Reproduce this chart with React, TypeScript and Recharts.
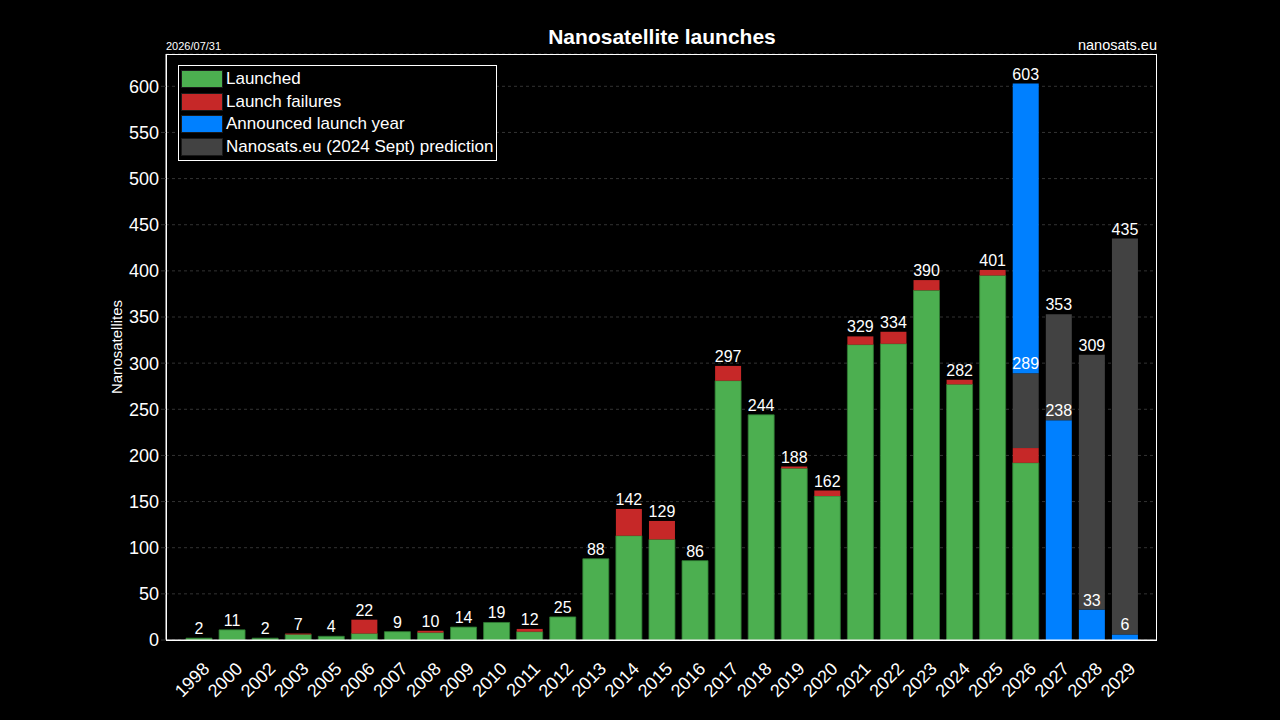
import { Bar, BarChart, CartesianGrid, LabelList, XAxis, YAxis } from "recharts"

const years = [
  "1998", "2000", "2002", "2003", "2005", "2006", "2007", "2008", "2009", "2010",
  "2011", "2012", "2013", "2014", "2015", "2016", "2017", "2018", "2019", "2020",
  "2021", "2022", "2023", "2024", "2025", "2026", "2027", "2028", "2029",
]
const launched = [
  2, 11, 2, 6, 4, 7, 9, 8, 14, 19,
  9, 25, 88, 113, 109, 86, 281, 244, 186, 156,
  320, 321, 379, 277, 395, 192, 0, 0, 0,
]
const failures = [
  0, 0, 0, 1, 0, 15, 0, 2, 0, 0,
  3, 0, 0, 29, 20, 0, 16, 0, 2, 6,
  9, 13, 11, 5, 6, 16, 0, 0, 0,
]
const announced = [
  0, 0, 0, 0, 0, 0, 0, 0, 0, 0,
  0, 0, 0, 0, 0, 0, 0, 0, 0, 0,
  0, 0, 0, 0, 0, 603, 238, 33, 6,
]
const prediction = [
  0, 0, 0, 0, 0, 0, 0, 0, 0, 0,
  0, 0, 0, 0, 0, 0, 0, 0, 0, 0,
  0, 0, 0, 0, 0, 289, 353, 309, 435,
]
const yTicks = [0, 50, 100, 150, 200, 250, 300, 350, 400, 450, 500, 550, 600]

const GREEN = "#4caf50"
const RED = "#c62828"
const BLUE = "#0080ff"
const GRAY = "#424242"
const FONT = "'Liberation Sans', Arial, sans-serif"

// taller of announced / prediction sits behind, so split into stack pieces
const data = years.map((year, i) => {
  const base = launched[i] + failures[i]
  const a = announced[i]
  const p = prediction[i]
  const low = a > 0 && a <= p ? a : 0
  const gray = p > 0 ? p - Math.max(base, low) : 0
  const high = a > p ? a - Math.max(p, base) : 0
  const plain = a === 0 && p === 0
  return {
    year,
    launched: launched[i],
    failures: failures[i],
    low,
    gray,
    high,
    labelLaunched: plain && failures[i] === 0 ? base : null,
    labelFailures: plain && failures[i] > 0 ? base : null,
    labelLow: low > 0 ? a : null,
    labelGray: p > 0 ? p : null,
    labelHigh: high > 0 ? a : null,
  }
})

const legendItems = [
  { name: "Launched", color: GREEN },
  { name: "Launch failures", color: RED },
  { name: "Announced launch year", color: BLUE },
  { name: "Nanosats.eu (2024 Sept) prediction", color: GRAY },
]

function BarLabel(props: any) {
  const { x, y, width, value } = props
  if (value === null || value === undefined) return null
  return (
    <text
      x={x + width / 2}
      y={y - 4}
      textAnchor="middle"
      fill="#fff"
      fontSize={16}
      fontFamily={FONT}
    >
      {value}
    </text>
  )
}

function YearTick(props: any) {
  const { x, y, payload } = props
  return (
    <text
      transform={`translate(${x + 12},${y + 22}) rotate(-45)`}
      textAnchor="end"
      fill="#fff"
      fontSize={18}
      fontFamily={FONT}
    >
      {payload.value}
    </text>
  )
}

function LegendBox() {
  return (
    <div
      style={{
        position: "absolute",
        left: 178,
        top: 65,
        border: "1px solid #fff",
        background: "#000",
        padding: "2px 3px 2px 2px",
        fontFamily: FONT,
        fontSize: 17,
        color: "#fff",
      }}
    >
      {legendItems.map((item) => (
        <div key={item.name} style={{ display: "flex", alignItems: "center", height: 22.6 }}>
          <div
            style={{
              width: 40,
              height: 16,
              background: item.color,
              border: "1px solid #1a1a1a",
              marginRight: 3,
            }}
          />
          <span>{item.name}</span>
        </div>
      ))}
    </div>
  )
}

export default function App() {
  return (
    <div
      style={{
        position: "fixed",
        left: 0,
        top: 0,
        width: 1280,
        height: 720,
        background: "#000",
        fontFamily: FONT,
      }}
    >
      <div
        style={{
          position: "absolute",
          left: 0,
          width: 1280,
          top: 25,
          textAlign: "center",
          color: "#fff",
          fontWeight: "bold",
          fontSize: 21,
          paddingLeft: 44,
          boxSizing: "border-box",
        }}
      >
        Nanosatellite launches
      </div>
      <div style={{ position: "absolute", left: 166, top: 40, color: "#fff", fontSize: 11 }}>
        2026/07/31
      </div>
      <div style={{ position: "absolute", right: 123, top: 37, color: "#fff", fontSize: 14.5 }}>
        nanosats.eu
      </div>
      <div
        style={{
          position: "absolute",
          left: 116,
          top: 347,
          color: "#fff",
          fontSize: 15,
          transform: "translate(-50%, -50%) rotate(-90deg)",
          whiteSpace: "nowrap",
        }}
      >
        Nanosatellites
      </div>
      <BarChart
        width={1280}
        height={720}
        data={data}
        margin={{ top: 54, right: 123, bottom: 20, left: 106 }}
        barSize={26}
      >
        <CartesianGrid vertical={false} stroke="#333" strokeDasharray="3 3" />
        <XAxis
          dataKey="year"
          interval={0}
          height={60}
          padding={{ left: 16, right: 16 }}
          axisLine={{ stroke: "#fff" }}
          tickLine={false}
          tick={<YearTick />}
        />
        <YAxis
          width={60}
          domain={[0, 635]}
          ticks={yTicks}
          allowDataOverflow
          axisLine={{ stroke: "#fff" }}
          tickLine={{ stroke: "#333" }}
          tickSize={5}
          tick={{ fill: "#fff", fontSize: 18, fontFamily: FONT }}
        />
        <Bar dataKey="launched" stackId="s" fill={GREEN} stroke="#2e7d32" strokeWidth={0.8} isAnimationActive={false}>
          <LabelList dataKey="labelLaunched" content={<BarLabel />} />
        </Bar>
        <Bar dataKey="failures" stackId="s" fill={RED} isAnimationActive={false}>
          <LabelList dataKey="labelFailures" content={<BarLabel />} />
        </Bar>
        <Bar dataKey="low" stackId="s" fill={BLUE} isAnimationActive={false}>
          <LabelList dataKey="labelLow" content={<BarLabel />} />
        </Bar>
        <Bar dataKey="gray" stackId="s" fill={GRAY} isAnimationActive={false}>
          <LabelList dataKey="labelGray" content={<BarLabel />} />
        </Bar>
        <Bar dataKey="high" stackId="s" fill={BLUE} isAnimationActive={false}>
          <LabelList dataKey="labelHigh" content={<BarLabel />} />
        </Bar>
      </BarChart>
      <div
        style={{
          position: "absolute",
          left: 166,
          top: 54,
          width: 991,
          height: 587,
          border: "1px solid #fff",
          boxSizing: "border-box",
          pointerEvents: "none",
        }}
      />
      <LegendBox />
    </div>
  )
}
